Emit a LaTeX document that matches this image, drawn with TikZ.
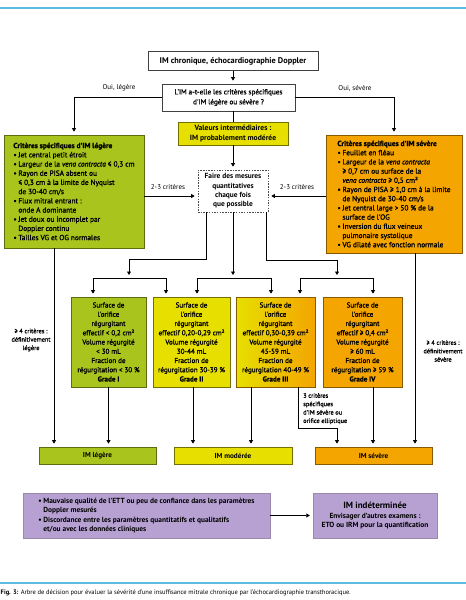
\documentclass[tikz,border=0pt]{standalone}
\usepackage{fontspec}
\setmainfont{PT Sans}
\newfontfamily\moyen{PT Sans}[FakeBold=1.2]
\usetikzlibrary{arrows.meta}
\definecolor{vertim}{HTML}{A9C41D}
\definecolor{jauneim}{HTML}{E6DF00}
\definecolor{orangeim}{HTML}{F4A500}
\definecolor{mauveim}{HTML}{B6A1D2}
\definecolor{bleuim}{HTML}{5BBBE0}
\newcommand{\puce}{\makebox[5pt][l]{•}}
\newcommand{\suite}{\hspace*{5pt}}
\begin{document}
\begin{tikzpicture}[x=1pt,y=1pt,
  boite/.style={draw=black!75,line width=0.7pt,fill=white,align=center,inner sep=1pt,font=\fontsize{7.2}{9.2}\selectfont\bfseries},
  liste/.style={boite,align=left,font=\fontsize{7.4}{9.2}\selectfont\moyen},
  grade/.style={boite,minimum height=90pt,font=\fontsize{7.1}{9.25}\selectfont\moyen},
  fleche/.style={-{Triangle[length=3.5pt,width=4pt]},shorten >=3pt,line width=0.7pt},
  trait/.style={line width=0.7pt},
  etiq/.style={font=\fontsize{7}{8}\selectfont,align=center,inner sep=0pt},
  petit/.style={font=\fontsize{6.3}{8.4}\selectfont\moyen,inner sep=0pt}]
\useasboundingbox (0,0) rectangle (466,-600);
\draw[bleuim,line width=1.2pt] (0,-8) -- (466,-8);
\draw[bleuim,line width=1.2pt] (0,-583) -- (466,-583);
\node[anchor=west,font=\fontsize{6.5}{7}\selectfont,inner sep=0pt] (legende) at (0.5,-593) {\textbf{Fig. 3:} Arbre de décision pour évaluer la sévérité d'une insuffisance mitrale chronique par l'échocardiographie transthoracique.};
\node[boite,minimum width=170pt,minimum height=19pt,font=\fontsize{8.3}{9}\selectfont\bfseries] (chron) at (233,-61) {IM chronique, échocardiographie Doppler};
\node[boite,minimum width=133pt,minimum height=27pt,font=\fontsize{7.2}{10}\selectfont\moyen] (quest) at (228.5,-97.5) {L'IM a-t-elle les critères spécifiques\\d'IM légère ou sévère ?};
\node[boite,fill=jauneim,draw=jauneim!50!black,minimum width=110pt,minimum height=23pt,font=\fontsize{7.6}{10}\selectfont\bfseries] (inter) at (233,-133.5) {Valeurs intermédiaires :\\IM probablement modérée};
\node[boite,draw=black!70,dash pattern=on 1.5pt off 1.2pt,minimum width=70pt,minimum height=42pt,font=\fontsize{7.4}{9.3}\selectfont\bfseries] (mesure) at (233,-191) {Faire des mesures\\quantitatives\\chaque fois\\que possible};
\node[liste,fill=vertim,draw=vertim!55!black,minimum width=140pt,minimum height=113pt] (legere) at (74,-191.5) {\textbf{Critères spécifiques d'IM légère}\\
\puce Jet central petit étroit\\
\puce Largeur de la \textit{vena contracta} ≤ 0,3 cm\\
\puce Rayon de PISA absent ou\\
\suite ≤ 0,3 cm à la limite de Nyquist\\
\suite de 30-40 cm/s\\
\puce Flux mitral entrant :\\
\suite onde A dominante\\
\puce Jet doux ou incomplet par\\
\suite Doppler continu\\
\puce Tailles VG et OG normales};
\node[liste,fill=orangeim,draw=orangeim!55!black,minimum width=136pt,minimum height=118pt] (severe) at (394,-194) {\textbf{Critères spécifiques d'IM sévère}\\
\puce Feuillet en fléau\\
\puce Largeur de la \textit{vena contracta}\\
\suite ≥ 0,7 cm ou surface de la\\
\suite \textit{vena contracta} ≥ 0,5 cm²\\
\puce Rayon de PISA ≥ 1,0 cm à la limite\\
\suite de Nyquist de 30-40 cm/s\\
\puce Jet central large > 50 \% de la\\
\suite surface de l'OG\\
\puce Inversion du flux veineux\\
\suite pulmonaire systolique\\
\puce VG dilaté avec fonction normale};
\node[grade,fill=vertim,draw=vertim!55!black,minimum width=75pt] (g1) at (108.5,-342) {Surface de\\l'orifice\\régurgitant\\effectif < 0,2 cm²\\Volume régurgité\\< 30 mL\\Fraction de\\régurgitation < 30 \%\\\textbf{Grade I}};
\node[grade,fill=jauneim,draw=jauneim!50!black,minimum width=77pt] (g2) at (191.5,-342) {Surface de\\l'orifice\\régurgitant\\effectif 0,20-0,29 cm²\\Volume régurgité\\30-44 mL\\Fraction de\\régurgitation 30-39 \%\\\textbf{Grade II}};
\node[grade,left color=jauneim,right color=orangeim,draw=orangeim!55!black,minimum width=79pt] (g3) at (275.5,-342) {Surface de\\l'orifice\\régurgitant\\effectif 0,30-0,39 cm²\\Volume régurgité\\45-59 mL\\Fraction de\\régurgitation 40-49 \%\\\textbf{Grade III}};
\node[grade,fill=orangeim,draw=orangeim!55!black,minimum width=79pt] (g4) at (362.5,-342) {Surface de\\l'orifice\\régurgitant\\effectif ≥ 0,4 cm²\\Volume régurgité\\≥ 60 mL\\Fraction de\\régurgitation ≥ 59 \%\\\textbf{Grade IV}};
\node[boite,fill=vertim,draw=vertim!55!black,minimum width=117pt,minimum height=17pt] (imleg) at (97.5,-455.5) {IM légère};
\node[boite,fill=jauneim,draw=jauneim!50!black,minimum width=118pt,minimum height=17pt] (immod) at (233,-455.5) {IM modérée};
\node[boite,fill=orangeim,draw=orangeim!55!black,minimum width=117pt,minimum height=17pt] (imsev) at (373.5,-455.5) {IM sévère};
\node[liste,fill=mauveim,draw=mauveim!85!black,line width=0.4pt,minimum width=247pt,minimum height=45pt,font=\fontsize{7.4}{9.3}\selectfont\bfseries] (qualite) at (146.5,-515.5) {\puce Mauvaise qualité de l'ETT ou peu de confiance dans les paramètres\\
\suite Doppler mesurés\\
\puce Discordance entre les paramètres quantitatifs et qualitatifs\\
\suite et/ou avec les données cliniques};
\node[boite,fill=mauveim,draw=mauveim!85!black,line width=0.4pt,minimum width=124pt,minimum height=45pt,font=\fontsize{7.4}{9.3}\selectfont\bfseries] (indet) at (375,-515.5) {{\fontsize{9}{9.3}\selectfont IM indéterminée}\\Envisager d'autres examens :\\ETO ou IRM pour la quantification};
\node[etiq] (ouileg) at (119,-88) {Oui, légère};
\node[etiq] (ouisev) at (355,-88) {Oui, sévère};
\node[etiq] (crit1) at (168,-187) {2-3 critères};
\node[etiq] (crit2) at (297,-187) {2-3 critères};
\node[petit,align=center] (deflege) at (31,-340) {≥ 4 critères :\\définitivement\\légère};
\node[petit,align=center] (defsev) at (443,-351) {≥ 4 critères :\\définitivement\\sévère};
\node[petit,align=left,anchor=north west] (troiscrit) at (303,-393) {3 critères\\spécifiques\\d'IM sévère ou\\orifice elliptique};
\coordinate (ga) at (93,-278);
\coordinate (gm) at (129,-278);
\coordinate (gb) at (166,-278);
\coordinate (ma) at (197,-278);
\coordinate (mb) at (271,-278);
\coordinate (sa) at (300,-278);
\coordinate (sm) at (337,-278);
\coordinate (sb) at (373,-278);
\coordinate (coude) at (337,-428);
\draw[fleche] (chron.south) -- (chron.south |- quest.north);
\draw[fleche] (quest.west |- 0,-97) -| (legere.north);
\draw[fleche] (quest.east |- 0,-97) -| (severe.north);
\draw[trait] (inter.north |- quest.south) -- (inter.north);
\draw[fleche] (inter.south) -- (mesure.north);
\draw[fleche] (legere.east |- 0,-196) -- (mesure.west |- 0,-196);
\draw[fleche] (severe.west |- 0,-196) -- (mesure.east |- 0,-196);
\draw[fleche] ([xshift=-27pt]mesure.south) |- ([yshift=19pt]gm) -- (gm);
\draw[fleche] (mesure.south) -- (ma -| mesure.south);
\draw[fleche] ([xshift=33pt]mesure.south) |- ([yshift=18pt]sm) -- (sm);
\draw[trait] (ga) -- (gb);
\draw[trait] (ma) -- (mb);
\draw[trait] (sa) -- (sb);
\draw[fleche] (ga) -- (ga |- g1.north);
\draw[fleche] (gb) -- (gb |- g2.north);
\draw[fleche] (ma) -- (ma |- g2.north);
\draw[fleche] (mb) -- (mb |- g3.north);
\draw[fleche] (sa) -- (sa |- g3.north);
\draw[fleche] (sb) -- (sb |- g4.north);
\draw[fleche] ([xshift=-20pt]legere.south) -- ([xshift=-20pt]legere.south |- imleg.north);
\draw[fleche] (g1.south) -- (g1.south |- imleg.north);
\draw[fleche] ([xshift=1.5pt]g2.south) -- ([xshift=1.5pt]g2.south |- immod.north);
\draw[fleche] ([xshift=-24.5pt]g3.south) -- ([xshift=-24.5pt]g3.south |- immod.north);
\draw[fleche] ([xshift=22.5pt]g3.south) |- (coude) -- (coude |- imsev.north);
\draw[fleche] ([xshift=10.5pt]g4.south) -- ([xshift=10.5pt]g4.south |- imsev.north);
\draw[fleche] ([xshift=21pt]severe.south) -- ([xshift=21pt]severe.south |- imsev.north);
\draw[fleche] (qualite.east) -- (indet.west);
\end{tikzpicture}
\end{document}
